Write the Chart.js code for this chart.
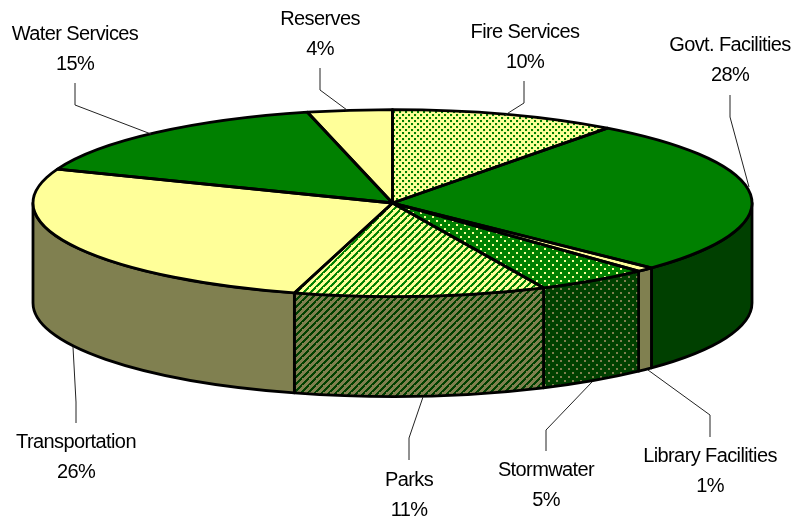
<!DOCTYPE html>
<html>
<head>
<meta charset="utf-8">
<script src="https://cdn.jsdelivr.net/npm/chart.js@4"></script>
<style>
  html, body { margin: 0; padding: 0; background: #fff; }
  canvas { display: block; }
</style>
</head>
<body>
<canvas id="budgetPie" width="797" height="523"></canvas>
<script>
// clockwise from 12 o'clock, slice sizes
const categories = ['Fire Services', 'Govt. Facilities', 'Library Facilities', 'Stormwater', 'Parks', 'Transportation', 'Water Services', 'Reserves'];
const shares = [10.2, 27, 0.8, 5.1, 11.3, 26.5, 15.3, 3.8];
// what the printed labels say
const shareLabels = ['10%', '28%', '1%', '5%', '11%', '26%', '15%', '4%'];

const GREEN = '#008000';
const DARK = '#004000';
const YELLOW = '#ffff99';
const OLIVE = '#808050';

const squash = 0.26;   // ellipse height / width
const depth = 100;     // wall height
const centerY = 203;

function tile(size, bg, paint) {
    const c = document.createElement('canvas');
    c.width = c.height = size;
    const g = c.getContext('2d');
    g.fillStyle = bg;
    g.fillRect(0, 0, size, size);
    paint(g);
    return c;
}

function dots(bg, fg, size, dot) {
    return tile(size, bg, g => {
        g.fillStyle = fg;
        g.fillRect(0, 0, dot, dot);
        g.fillRect(size / 2, size / 2, dot, dot);
    });
}

function hatch(bg, fg) {
    return tile(7, bg, g => {
        g.fillStyle = fg;
        for (let i = 0; i < 7; i++) {
            g.fillRect(i, 6 - i, 2, 2);
            g.fillRect(i - 7, 6 - i, 2, 2);
        }
    });
}

// the top face gets drawn under the squash transform, undo it for the pattern
function flatPattern(ctx, canvas) {
    const p = ctx.createPattern(canvas, 'repeat');
    const m = new DOMMatrix([1, 0, 0, 1 / squash, 0, -centerY * (1 - squash) / squash]);
    p.setTransform(m);
    return p;
}

const ctx = document.getElementById('budgetPie').getContext('2d');

const topColors = [
    flatPattern(ctx, dots(YELLOW, GREEN, 6, 2)),
    GREEN,
    YELLOW,
    flatPattern(ctx, dots(GREEN, YELLOW, 8, 2)),
    flatPattern(ctx, hatch(YELLOW, GREEN)),
    YELLOW,
    GREEN,
    YELLOW
];
const sideColors = [
    YELLOW,
    DARK,
    OLIVE,
    ctx.createPattern(dots(DARK, OLIVE, 8, 2), 'repeat'),
    ctx.createPattern(hatch(OLIVE, DARK), 'repeat'),
    OLIVE,
    DARK,
    OLIVE
];

// text centre and leader line for each slice, same order as categories
const labelSpots = [
    { x: 525, y: 32, line: [[524, 81], [524, 103], [505, 115]] },
    { x: 730, y: 45, line: [[730, 95], [730, 117], [749, 187]] },
    { x: 710, y: 456, line: [[710, 437], [710, 415], [648, 370]] },
    { x: 546, y: 470, line: [[546, 451], [546, 430], [592, 382]] },
    { x: 409, y: 480, line: [[409, 460], [409, 438], [423, 397]] },
    { x: 76, y: 442, line: [[76, 423], [76, 402], [73, 347]] },
    { x: 75, y: 34, line: [[75, 83], [75, 105], [151, 134]] },
    { x: 320, y: 19, line: [[320, 68], [320, 90], [347, 110]] }
];

const pie3d = {
    id: 'pie3d',
    beforeDatasetDraw(chart, args) {
        const c = chart.ctx;
        const arcs = args.meta.data;

        // walls, only the part of each slice facing us
        arcs.forEach((arc, i) => {
            const from = Math.max(arc.startAngle, 0);
            const to = Math.min(arc.endAngle, Math.PI);
            if (from >= to) return;
            const r = arc.outerRadius;
            c.beginPath();
            c.ellipse(arc.x, arc.y, r, r * squash, 0, from, to);
            c.ellipse(arc.x, arc.y + depth, r, r * squash, 0, to, from, true);
            c.closePath();
            c.fillStyle = sideColors[i];
            c.fill();
            c.lineWidth = 2.8;
            c.lineJoin = 'round';
            c.strokeStyle = '#000';
            c.stroke();
        });

        // top face, arcs painted by the library and flattened
        c.save();
        c.translate(0, centerY * (1 - squash));
        c.scale(1, squash);
        arcs.forEach(arc => arc.draw(c));
        c.restore();

        // outlines outside the transform so the width stays even
        arcs.forEach(arc => {
            const r = arc.outerRadius;
            c.beginPath();
            c.moveTo(arc.x, arc.y);
            c.ellipse(arc.x, arc.y, r, r * squash, 0, arc.startAngle, arc.endAngle);
            c.closePath();
            c.lineWidth = 2.8;
            c.lineJoin = 'round';
            c.strokeStyle = '#000';
            c.stroke();
        });

        // labels
        c.font = '20px "Liberation Sans"';
        c.letterSpacing = '-0.6px';
        c.textAlign = 'center';
        c.textBaseline = 'middle';
        categories.forEach((name, i) => {
            const spot = labelSpots[i];
            c.fillStyle = '#000';
            c.fillText(name, spot.x, spot.y);
            c.fillText(shareLabels[i], spot.x, spot.y + 30);
            c.beginPath();
            spot.line.forEach((p, j) => j ? c.lineTo(p[0], p[1]) : c.moveTo(p[0], p[1]));
            c.lineWidth = 1;
            c.strokeStyle = '#222';
            c.stroke();
        });

        return false;
    }
};

new Chart(ctx, {
    type: 'pie',
    data: {
        labels: categories,
        datasets: [{
            data: shares,
            backgroundColor: topColors,
            borderWidth: 0
        }]
    },
    options: {
        responsive: false,
        animation: false,
        radius: 359.5,
        layout: { padding: { right: 12, bottom: 117 } },
        plugins: {
            legend: { display: false },
            tooltip: { enabled: false }
        }
    },
    plugins: [pie3d]
});
</script>
</body>
</html>
